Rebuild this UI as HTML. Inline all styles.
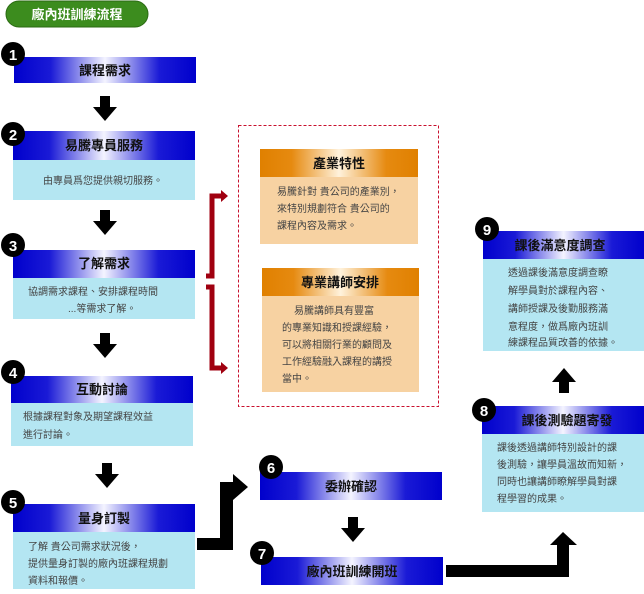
<!DOCTYPE html>
<html><head><meta charset="utf-8"><style>
html,body{margin:0;padding:0;background:#fff}
svg text{font-family:"Liberation Sans","Noto Sans CJK TC",sans-serif}
.t{font-size:13px;font-weight:bold;fill:#111;text-anchor:middle}
.b{font-size:10px;fill:#444}
.n{font-size:15px;font-weight:bold;fill:#fff;text-anchor:middle}
</style></head><body>
<svg width="644" height="589" viewBox="0 0 644 589" xmlns="http://www.w3.org/2000/svg">
<defs>
<linearGradient id="bl" x1="0" x2="1"><stop offset="0" stop-color="#0000cc"/><stop offset="0.2" stop-color="#1a1ad6"/><stop offset="0.5" stop-color="#f4f4ff"/><stop offset="0.8" stop-color="#1a1ad6"/><stop offset="1" stop-color="#0000cc"/></linearGradient>
<linearGradient id="or" x1="0" x2="1"><stop offset="0" stop-color="#e08000"/><stop offset="0.2" stop-color="#e68a10"/><stop offset="0.5" stop-color="#fff2dc"/><stop offset="0.8" stop-color="#e68a10"/><stop offset="1" stop-color="#e08000"/></linearGradient>
<g id="ad"><rect x="7" y="0" width="10" height="12" fill="#000"/><polygon points="0,11 24,11 12,25" fill="#000"/></g>
</defs>
<rect x="6" y="1" width="142" height="26" rx="13" fill="#3c8c1e" stroke="#2a6a12"/>
<text x="77" y="19" style="font-size:13px;font-weight:bold;fill:#fff;text-anchor:middle">廠內班訓練流程</text>

<rect x="14" y="57" width="182" height="26" fill="url(#bl)"/><text class="t" x="105" y="75">課程需求</text>
<use href="#ad" x="93" y="96"/>
<rect x="13" y="131" width="182" height="29" fill="url(#bl)"/><text class="t" x="104" y="150">易騰專員服務</text>
<rect x="13" y="160" width="182" height="40" fill="#b4e6f2"/><text class="b" x="43" y="184">由專員爲您提供親切服務。</text>
<use href="#ad" x="93" y="210"/>
<rect x="13" y="250" width="182" height="28" fill="url(#bl)"/><text class="t" x="104" y="268">了解需求</text>
<rect x="13" y="278" width="182" height="41" fill="#b4e6f2"/><text class="b" x="28" y="295">協調需求課程、安排課程時間</text><text class="b" x="68" y="312">...等需求了解。</text>
<use href="#ad" x="93" y="333"/>
<rect x="11" y="376" width="182" height="27" fill="url(#bl)"/><text class="t" x="102" y="394">互動討論</text>
<rect x="11" y="403" width="182" height="43" fill="#b4e6f2"/><text class="b" x="23" y="420">根據課程對象及期望課程效益</text><text class="b" x="23" y="438">進行討論。</text>
<use href="#ad" x="95" y="463"/>
<rect x="13" y="504" width="182" height="28" fill="url(#bl)"/><text class="t" x="104" y="523">量身訂製</text>
<rect x="13" y="532" width="182" height="57" fill="#b4e6f2"/><text class="b" x="28" y="550">了解 貴公司需求狀況後，</text><text class="b" x="28" y="567">提供量身訂製的廠內班課程規劃</text><text class="b" x="28" y="584">資料和報價。</text>

<rect x="260" y="472" width="182" height="28" fill="url(#bl)"/><text class="t" x="351" y="491">委辦確認</text>
<use href="#ad" x="341" y="517"/>
<rect x="261" y="557" width="182" height="28" fill="url(#bl)"/><text class="t" x="352" y="576">廠內班訓練開班</text>

<rect x="482" y="406" width="162" height="28" fill="url(#bl)"/><text class="t" x="567" y="425">課後測驗題寄發</text>
<rect x="482" y="434" width="162" height="78" fill="#b4e6f2"/>
<text class="b" x="497" y="451">課後透過講師特別設計的課</text><text class="b" x="497" y="468">後測驗，讓學員溫故而知新，</text><text class="b" x="497" y="485">同時也讓講師瞭解學員對課</text><text class="b" x="497" y="502">程學習的成果。</text>
<g transform="translate(576,393) rotate(180)"><use href="#ad"/></g>
<rect x="483" y="231" width="161" height="28" fill="url(#bl)"/><text class="t" x="560" y="250">課後滿意度調查</text>
<rect x="483" y="259" width="161" height="92" fill="#b4e6f2"/>
<text class="b" x="508" y="276">透過課後滿意度調查瞭</text><text class="b" x="508" y="294">解學員對於課程內容、</text><text class="b" x="508" y="312">講師授課及後勤服務滿</text><text class="b" x="508" y="330">意程度，做爲廠內班訓</text><text class="b" x="508" y="346">練課程品質改善的依據。</text>

<g>
<circle cx="13" cy="54" r="12" fill="#000"/><text class="n" x="13" y="60">1</text>
<circle cx="13" cy="134" r="12" fill="#000"/><text class="n" x="13" y="140">2</text>
<circle cx="13" cy="245" r="12" fill="#000"/><text class="n" x="13" y="251">3</text>
<circle cx="13" cy="372" r="12" fill="#000"/><text class="n" x="13" y="378">4</text>
<circle cx="13" cy="502" r="12" fill="#000"/><text class="n" x="13" y="508">5</text>
<circle cx="271" cy="467" r="12" fill="#000"/><text class="n" x="271" y="473">6</text>
<circle cx="262" cy="553" r="12" fill="#000"/><text class="n" x="262" y="559">7</text>
<circle cx="484" cy="410" r="12" fill="#000"/><text class="n" x="484" y="416">8</text>
<circle cx="487" cy="229" r="12" fill="#000"/><text class="n" x="487" y="235">9</text>
</g>

<path d="M197,538 H220 V482 H233 V474 L248,487 L233,500 V494 H233 V550 H197 Z" fill="#000"/>
<path d="M446,565 H557 V545 H550 L563,532 L577,545 H569 V577 H446 Z" fill="#000"/>

<rect x="238.5" y="125.5" width="200" height="281" fill="none" stroke="#c8102e" stroke-dasharray="3,2"/>
<rect x="260" y="149" width="158" height="28" fill="url(#or)"/><text class="t" x="339" y="168">產業特性</text>
<rect x="260" y="177" width="158" height="67" fill="#f7d2a2"/>
<text class="b" x="277" y="195">易騰針對 貴公司的產業別，</text><text class="b" x="277" y="212">來特別規劃符合 貴公司的</text><text class="b" x="277" y="229">課程內容及需求。</text>
<rect x="262" y="268" width="157" height="28" fill="url(#or)"/><text class="t" x="340" y="287">專業講師安排</text>
<rect x="262" y="296" width="157" height="96" fill="#f7d2a2"/>
<text class="b" x="294" y="314">易騰講師具有豐富</text><text class="b" x="282" y="331">的專業知識和授課經驗，</text><text class="b" x="282" y="348">可以將相關行業的顧問及</text><text class="b" x="282" y="365">工作經驗融入課程的講授</text><text class="b" x="282" y="382">當中。</text>

<path d="M206,276 H212 V196 H222" fill="none" stroke="#a00010" stroke-width="5"/>
<polygon points="221,190 228,196 221,202" fill="#a00010"/>
<path d="M206,287 H212 V368 H222" fill="none" stroke="#a00010" stroke-width="5"/>
<polygon points="221,362 228,368 221,374" fill="#a00010"/>
</svg>
</body></html>
